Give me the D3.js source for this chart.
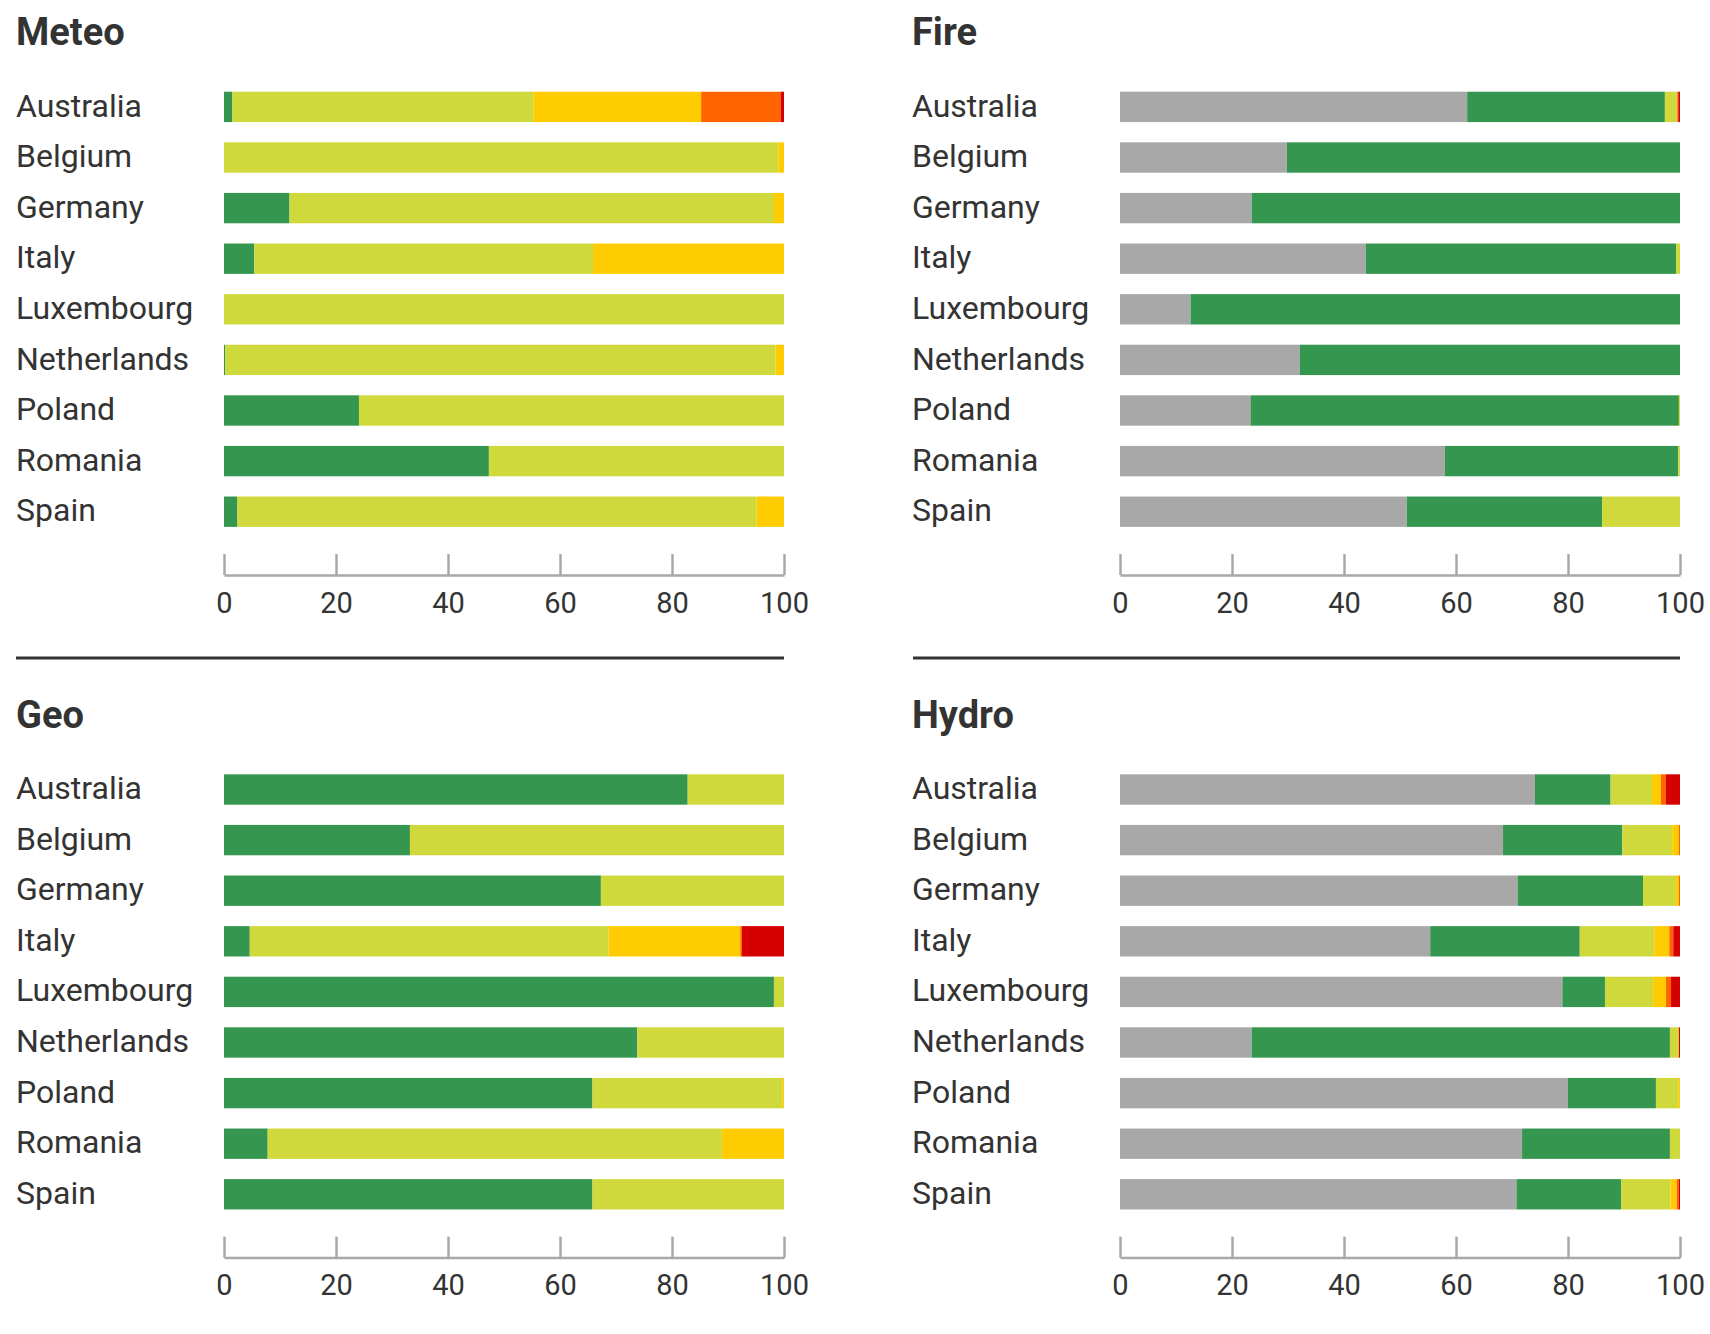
<!DOCTYPE html>
<html lang="en">
<head>
<meta charset="UTF-8">
<title>Risk by country</title>
<style>
    body { margin: 0; background: #fff; font-family: Roboto, 'Open Sans', sans-serif; }
    .title { font-size: 38px; font-weight: 700; fill: #333; }
    .label { font-size: 32px; fill: #333; }
    .axis path, .axis line { stroke: #a8a8a8; stroke-width: 2.5px; }
    .axis text { font-size: 29px; fill: #333; font-family: Roboto, sans-serif; }
    .sep { stroke: #333; stroke-width: 3px; }
</style>
</head>
<body>
<div id="chart"></div>
<script src="https://cdnjs.cloudflare.com/ajax/libs/d3/7.8.5/d3.min.js"></script>
<script>
    const countries = ['Australia', 'Belgium', 'Germany', 'Italy', 'Luxembourg', 'Netherlands', 'Poland', 'Romania', 'Spain'];
    const levels = ['na', 'green', 'lime', 'yellow', 'orange', 'red'];
    const levelColors = ['#a8a8a8', '#359650', '#d0d93c', '#fecc00', '#ff6400', '#d50000'];
    const ticks = [0, 20, 40, 60, 80, 100];

    // shares in % per country: [n/a, green, lime, yellow, orange, red]
    const meteo = [
        [0, 1.5, 53.8, 29.9, 14.2, 0.6],
        [0, 0, 99.0, 1.0, 0, 0],
        [0, 11.7, 86.5, 1.8, 0, 0],
        [0, 5.4, 60.5, 34.1, 0, 0],
        [0, 0, 100, 0, 0, 0],
        [0, 0.2, 98.3, 1.5, 0, 0],
        [0, 24.1, 75.9, 0, 0, 0],
        [0, 47.3, 52.7, 0, 0, 0],
        [0, 2.4, 92.7, 4.9, 0, 0]
    ];
    const fire = [
        [62.0, 35.3, 2.2, 0, 0.2, 0.3],
        [29.8, 70.2, 0, 0, 0, 0],
        [23.5, 76.5, 0, 0, 0, 0],
        [43.9, 55.4, 0.7, 0, 0, 0],
        [12.6, 87.4, 0, 0, 0, 0],
        [32.1, 67.9, 0, 0, 0, 0],
        [23.3, 76.5, 0.2, 0, 0, 0],
        [58.0, 41.7, 0.3, 0, 0, 0],
        [51.2, 34.9, 13.9, 0, 0, 0]
    ];
    const geo = [
        [0, 82.8, 17.2, 0, 0, 0],
        [0, 33.2, 66.8, 0, 0, 0],
        [0, 67.3, 32.7, 0, 0, 0],
        [0, 4.6, 64.1, 23.5, 0.3, 7.5],
        [0, 98.2, 1.8, 0, 0, 0],
        [0, 73.8, 26.2, 0, 0, 0],
        [0, 65.8, 33.9, 0.3, 0, 0],
        [0, 7.8, 81.1, 11.1, 0, 0],
        [0, 65.8, 34.2, 0, 0, 0]
    ];
    const hydro = [
        [74.1, 13.5, 7.4, 1.6, 0.9, 2.5],
        [68.4, 21.3, 8.9, 1.2, 0.2, 0],
        [71.0, 22.4, 5.9, 0.5, 0.2, 0],
        [55.4, 26.7, 13.3, 2.7, 0.7, 1.2],
        [79.0, 7.6, 8.6, 2.3, 0.9, 1.6],
        [23.5, 74.7, 1.6, 0, 0, 0.2],
        [80.0, 15.7, 4.0, 0.3, 0, 0],
        [71.8, 26.4, 1.8, 0, 0, 0],
        [70.8, 18.7, 8.8, 1.1, 0.4, 0.2]
    ];

    const svg = d3.select('#chart').append('svg')
        .attr('width', 1710)
        .attr('height', 1334);

    const color = d3.scaleOrdinal().domain(levels).range(levelColors);

    function drawPanel(title, rows, left, top) {
        const g = svg.append('g').attr('transform', 'translate(' + left + ',' + top + ')');
        const x = d3.scaleLinear().domain([0, 100]).range([208, 768]);
        const y = d3.scaleBand().domain(countries).range([81.6, 81.6 + 455.4])
            .paddingInner(0.4).paddingOuter(0.2);

        // 標題
        g.append('text').attr('class', 'title')
            .attr('x', 0).attr('y', 45)
            .text(title);

        const table = rows.map(function (r, i) {
            const o = { country: countries[i] };
            levels.forEach(function (k, j) { o[k] = r[j]; });
            return o;
        });
        const series = d3.stack().keys(levels)(table);

        g.selectAll('.layer')
            .data(series)
            .enter().append('g')
            .attr('fill', function (d) { return color(d.key); })
            .selectAll('rect')
            .data(function (d) { return d; })
            .enter().append('rect')
            .attr('x', function (d) { return x(d[0]); })
            .attr('y', function (d) { return y(d.data.country); })
            .attr('width', function (d) { return Math.max(0, x(d[1]) - x(d[0])); })
            .attr('height', y.bandwidth());

        g.selectAll('.label')
            .data(countries)
            .enter().append('text')
            .attr('class', 'label')
            .attr('x', 0)
            .attr('y', function (d) { return y(d) + y.bandwidth() / 2; })
            .attr('dy', '0.3em')
            .text(function (d) { return d; });

        const axis = g.append('g')
            .attr('class', 'axis')
            .attr('transform', 'translate(0,575)')
            .call(d3.axisBottom(x).tickValues(ticks).tickSizeInner(-21).tickSizeOuter(0).tickPadding(17));
        axis.select('.domain').attr('stroke', '#a8a8a8');
        axis.selectAll('.tick line').attr('stroke', '#a8a8a8');
        axis.selectAll('text').attr('fill', '#333');

        return g;
    }

    drawPanel('Meteo', meteo, 16, 0);
    drawPanel('Fire', fire, 912, 0);
    drawPanel('Geo', geo, 16, 682.6);
    drawPanel('Hydro', hydro, 912, 682.6);

    // 分隔線
    svg.append('line').attr('class', 'sep').attr('x1', 16).attr('x2', 784).attr('y1', 658).attr('y2', 658);
    svg.append('line').attr('class', 'sep').attr('x1', 913).attr('x2', 1680).attr('y1', 658).attr('y2', 658);
</script>
</body>
</html>
